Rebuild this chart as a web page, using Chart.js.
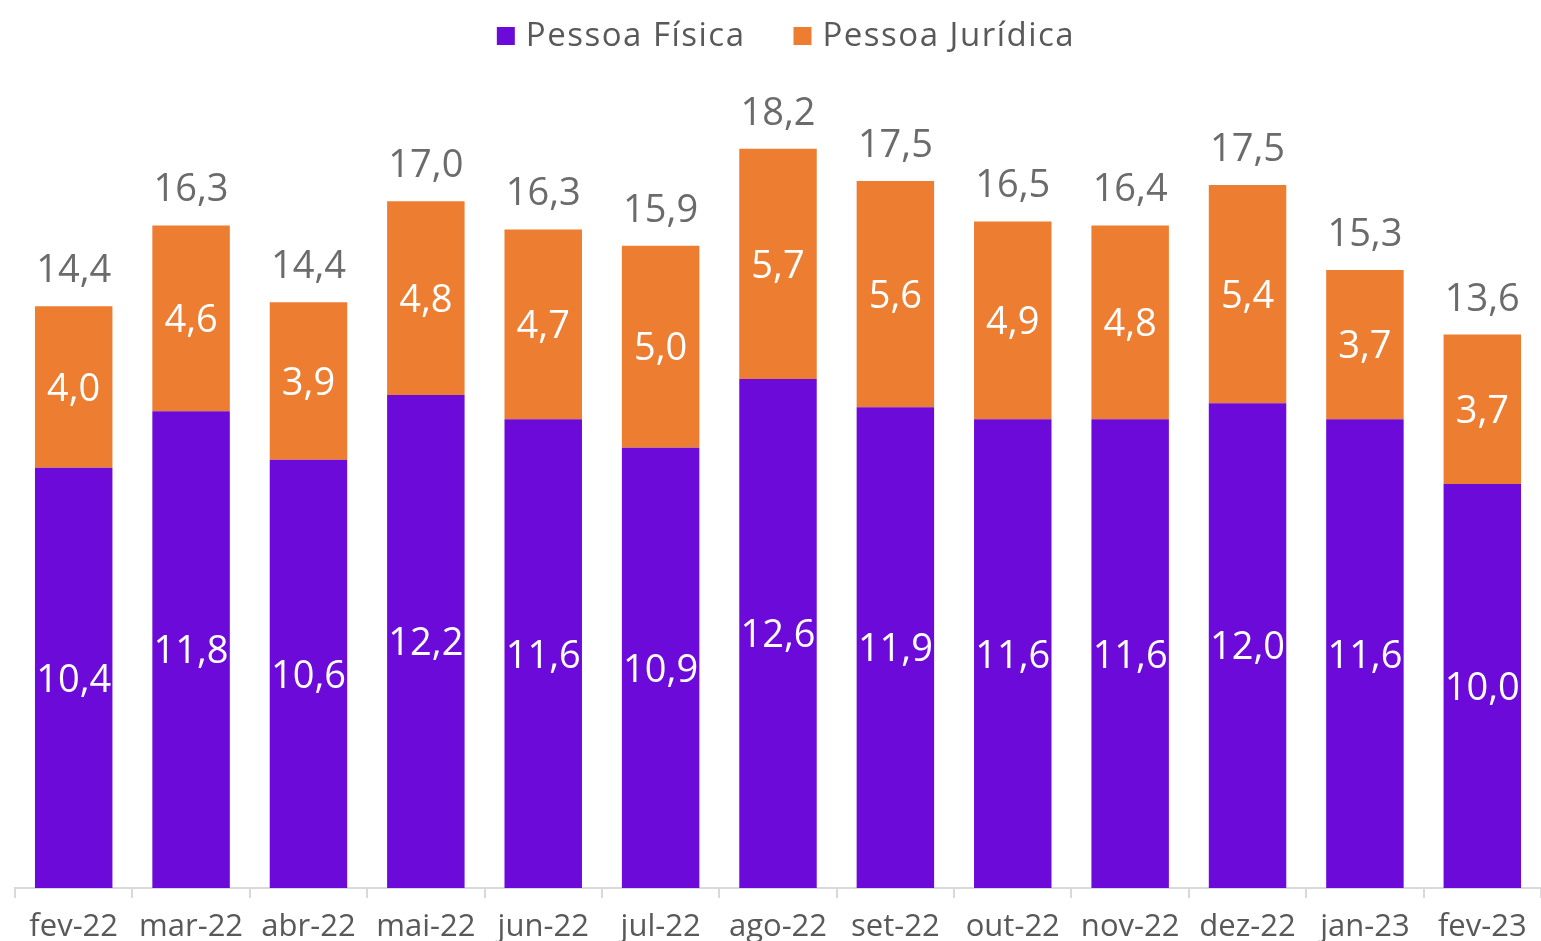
<!DOCTYPE html>
<html>
<head>
<meta charset="utf-8">
<script src="https://cdn.jsdelivr.net/npm/chart.js@4.4.0/dist/chart.umd.min.js"></script>
<style>
html,body{margin:0;padding:0;background:#fff;}
#wrap{width:1541px;height:941px;position:relative;}
</style>
</head>
<body>
<div id="wrap"><canvas id="c" width="1541" height="941"></canvas></div>
<script>
const categories = ['fev-22','mar-22','abr-22','mai-22','jun-22','jul-22','ago-22','set-22','out-22','nov-22','dez-22','jan-23','fev-23'];
const pessoaFisica = [10.4, 11.8, 10.6, 12.2, 11.6, 10.9, 12.6, 11.9, 11.6, 11.6, 12.0, 11.6, 10.0];
const pessoaJuridica = [4.0, 4.6, 3.9, 4.8, 4.7, 5.0, 5.7, 5.6, 4.9, 4.8, 5.4, 3.7, 3.7];
const totals = [14.4, 16.3, 14.4, 17.0, 16.3, 15.9, 18.2, 17.5, 16.5, 16.4, 17.5, 15.3, 13.6];
const seriesNames = ['Pessoa Física', 'Pessoa Jurídica'];
const seriesColors = ['#6c0bd9', '#ed7d31'];

const FONT = "'Open Sans', 'DejaVu Sans', sans-serif";
const fmt = v => v.toFixed(1).replace('.', ',');

const labelPlugin = {
  id: 'labels',
  afterDatasetsDraw(chart) {
    const ctx = chart.ctx;
    ctx.save();
    ctx.textAlign = 'center';
    ctx.font = '38px ' + FONT;
    chart.data.datasets.forEach((ds, di) => {
      const meta = chart.getDatasetMeta(di);
      meta.data.forEach((bar, i) => {
        const v = ds.data[i];
        ctx.fillStyle = '#ffffff';
        ctx.textBaseline = 'middle';
        ctx.fillText(fmt(v), bar.x, (bar.y + bar.base) / 2 + 3);
      });
    });
    const top = chart.getDatasetMeta(chart.data.datasets.length - 1);
    top.data.forEach((bar, i) => {
      ctx.fillStyle = '#6b6b6b';
      ctx.textBaseline = 'alphabetic';
      ctx.fillText(fmt(totals[i]), bar.x, bar.y - 24);
    });
    ctx.restore();
  }
};

const legendPlugin = {
  id: 'customLegend',
  afterDraw(chart) {
    const ctx = chart.ctx;
    ctx.save();
    ctx.font = '33px ' + FONT;
    if ('letterSpacing' in ctx) ctx.letterSpacing = '1.5px';
    const box = 18, gapText = 11, gapItem = 48;
    const widths = chart.data.datasets.map(ds => ctx.measureText(ds.label).width);
    let total = 0;
    widths.forEach((w, i) => { total += box + gapText + w + (i < widths.length - 1 ? gapItem : 0); });
    let x = 786 - total / 2;
    const cy = 36;
    chart.data.datasets.forEach((ds, i) => {
      ctx.fillStyle = ds.backgroundColor;
      ctx.fillRect(x, cy - box / 2, box, box);
      x += box + gapText;
      ctx.fillStyle = '#595959';
      ctx.textAlign = 'left';
      ctx.textBaseline = 'middle';
      ctx.fillText(ds.label, x, cy + 1);
      x += widths[i] + gapItem;
    });
    ctx.restore();
  }
};

new Chart(document.getElementById('c'), {
  type: 'bar',
  data: {
    labels: categories,
    datasets: [
      { label: seriesNames[0], data: pessoaFisica, backgroundColor: seriesColors[0], barPercentage: 0.66, categoryPercentage: 1.0 },
      { label: seriesNames[1], data: pessoaJuridica, backgroundColor: seriesColors[1], barPercentage: 0.66, categoryPercentage: 1.0 }
    ]
  },
  options: {
    responsive: false,
    animation: false,
    layout: { padding: { left: 15, right: 0, top: 80, bottom: 0 } },
    plugins: {
      legend: { display: false },
      tooltip: { enabled: false }
    },
    scales: {
      x: {
        stacked: true,
        grid: { display: true, drawOnChartArea: false, color: '#d9d9d9', lineWidth: 2, tickLength: 10, offset: true },
        border: { display: true, color: '#d9d9d9', width: 2 },
        ticks: { font: { family: FONT, size: 31 }, color: '#595959', padding: 11, maxRotation: 0, autoSkip: false },
        afterFit(scale) { scale.height = 53; }
      },
      y: {
        stacked: true,
        display: false,
        min: 0,
        max: 20
      }
    }
  },
  plugins: [labelPlugin, legendPlugin]
});
</script>
</body>
</html>
